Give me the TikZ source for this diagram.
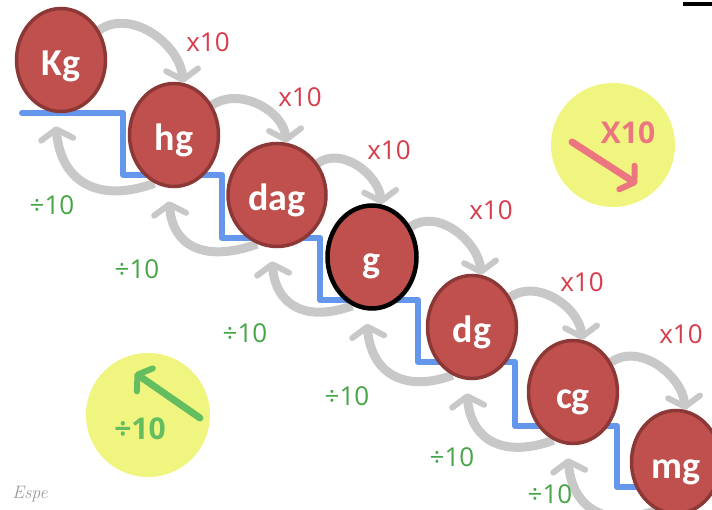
\documentclass[tikz,border=0pt]{standalone}
\usepackage{fontspec}
\usetikzlibrary{shapes.geometric,arrows.meta,backgrounds}

\newfontfamily\unitfont{Carlito}
\newfontfamily\lblfont{Open Sans}

\definecolor{unitred}{RGB}{192,80,77}
\definecolor{unitrim}{RGB}{140,56,54}
\definecolor{stairblue}{RGB}{100,150,235}
\definecolor{arcgray}{RGB}{200,200,200}
\definecolor{timesred}{RGB}{215,60,75}
\definecolor{divgreen}{RGB}{70,165,70}
\definecolor{padyellow}{RGB}{240,245,128}
\definecolor{padpink}{RGB}{236,118,128}
\definecolor{padgreen}{RGB}{100,190,95}

\tikzset{
  unit/.style={ellipse, fill=unitred, draw=unitrim, line width=3.5pt,
    minimum width=89pt, minimum height=103pt, inner sep=0pt, text=white,
    font=\unitfont\bfseries\fontsize{38}{38}\selectfont,
    text height=32pt, text depth=0pt},
  convarc/.style={arcgray, line width=9pt,
    -{Straight Barb[length=10pt,width=32pt,line width'=6pt,round]}},
  timeslabel/.style={text=timesred, font=\lblfont\fontsize{26}{26}\selectfont},
  divlabel/.style={text=divgreen, font=\lblfont\fontsize{26}{26}\selectfont},
  padarrow/.style={line width=7pt, line cap=round,
    -{Straight Barb[length=9pt,width=28pt,line width'=6pt,round]}},
  padtext/.style={font=\lblfont\bfseries\fontsize{30}{30}\selectfont}
}

\begin{document}
\begin{tikzpicture}[x=1pt,y=1pt]
  \useasboundingbox (0,0) rectangle (712,-510);

  \fill [padyellow] (613,-145) circle (62pt);
  \fill [padyellow] (148,-415) circle (62pt);

  \draw [stairblue, line width=6pt, line cap=round, line join=round]
    (22,-113) -- (123,-113) -- (123,-175) -- (222,-175)
    -- (222,-238) -- (320,-238) -- (320,-300) -- (418,-300)
    -- (418,-362) -- (515,-362) -- (515,-426) -- (617,-426)
    -- (617,-487) -- (712,-487);

  \node [unit] (Kg) at (61,-60) {Kg};
  \node [unit] (hg) at (174,-135) {hg};
  \node [unit, minimum width=98pt] (dag) at (277,-195) {dag};
  \node [unit, draw=black, line width=4.5pt] (g) at (372,-257) {g};
  \node [unit] (dg) at (472,-327) {dg};
  \node [unit] (cg) at (573,-392) {cg};
  \node [unit] (mg) at (676,-462) {mg};

  \begin{scope}[on background layer]
    \foreach \up/\down in {Kg/hg, hg/dag, dag/g, g/dg, dg/cg, cg/mg}
    {
      \draw [convarc] (\up.38) to [out=35, in=95] (\down.80);
      \draw [convarc] (\down.248) to [out=200, in=275, looseness=1.3]
        ([xshift=-5pt,yshift=-13pt]\up.south);
    }
  \end{scope}

  \foreach \up/\tx/\ty/\dx/\dy in {Kg/208/42/52/205, hg/300/97/137/269,
      dag/389/150/245/333, g/491/210/347/396, dg/582/282/452/457,
      cg/681/334/550/494}
  {
    \node [timeslabel] (times-\up) at (\tx,-\ty) {x10};
    \node [divlabel] (div-\up) at (\dx,-\dy) {÷10};
  }

  \node [padtext, text=padpink] (padx) at (628,-133) {X10};
  \coordinate (padx-from) at (572,-142);
  \coordinate (padx-to) at (637,-184);
  \draw [padarrow, padpink] (padx-from) -- (padx-to);

  \node [padtext, text=padgreen] (padd) at (140,-429) {÷10};
  \coordinate (padd-from) at (200,-418);
  \coordinate (padd-to) at (135,-373);
  \draw [padarrow, padgreen] (padd-from) -- (padd-to);

  \node [text=black!40, font=\itshape\fontsize{18}{18}\selectfont] (sig) at (30,-494) {Espe};

  \draw [line width=3.5pt] (683,-4) -- (712,-4);
\end{tikzpicture}
\end{document}
